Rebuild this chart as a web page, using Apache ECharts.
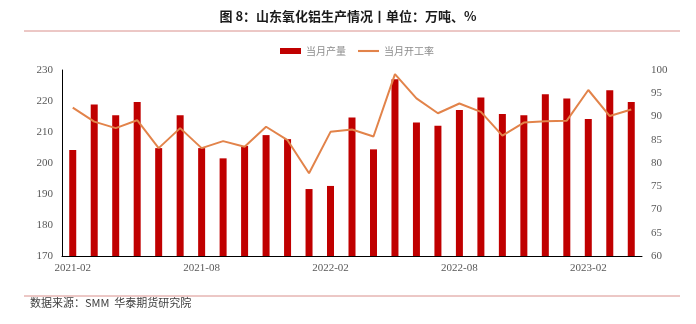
<!DOCTYPE html>
<html>
<head>
<meta charset="utf-8">
<script src="https://cdn.jsdelivr.net/npm/echarts@6/dist/echarts.min.js"></script>
<style>
  html, body { margin: 0; padding: 0; background: #fff; }
  #chart { width: 696px; height: 324px; }
</style>
</head>
<body>
<div id="chart"></div>
<script>
// Monthly categories, 2021-02 .. 2023-04
const months = [
  '2021-02','2021-03','2021-04','2021-05','2021-06','2021-07','2021-08','2021-09','2021-10','2021-11','2021-12',
  '2022-01','2022-02','2022-03','2022-04','2022-05','2022-06','2022-07','2022-08','2022-09','2022-10','2022-11','2022-12',
  '2023-01','2023-02','2023-03','2023-04'
];
// 当月产量 (万吨)
const output = [
  204.2, 218.9, 215.4, 219.7, 204.8, 215.4, 204.8, 201.5, 205.5, 209.0, 207.7,
  191.6, 192.6, 214.7, 204.4, 227.0, 213.1, 212.0, 217.1, 221.1, 215.8, 215.4, 222.2,
  220.8, 214.2, 223.5, 219.7
];
// 当月开工率 (%)
const utilization = [
  91.9, 88.9, 87.5, 89.2, 83.2, 87.5, 83.2, 84.7, 83.5, 87.8, 84.9,
  77.8, 86.7, 87.2, 85.7, 99.1, 93.9, 90.7, 92.8, 91.0, 85.9, 88.7, 89.0,
  89.1, 95.7, 90.1, 91.5
];
const leftTicks = { min: 170, max: 230, interval: 10 };
const rightTicks = { min: 60, max: 100, interval: 5 };

const axisFont = { color: '#595959', fontSize: 11, fontFamily: '"Liberation Serif"' };
const cjk = '"Noto Sans CJK SC", sans-serif';

const chart = echarts.init(document.getElementById('chart'), null, { renderer: 'canvas' });
chart.setOption({
  animation: false,
  backgroundColor: '#fff',
  title: {
    text: '图 8：山东氧化铝生产情况丨单位：万吨、%',
    left: 'center',
    top: 5,
    textStyle: { fontFamily: cjk, fontSize: 13, fontWeight: 'bold', color: '#1a1a1a' }
  },
  graphic: [
    { type: 'line', shape: { x1: 24, y1: 31, x2: 680, y2: 31 }, style: { stroke: '#d9908c', lineWidth: 1 } },
    { type: 'line', shape: { x1: 24, y1: 296, x2: 680, y2: 296 }, style: { stroke: '#d9908c', lineWidth: 1 } },
    {
      type: 'text', left: 30, top: 297,
      style: { text: '数据来源：SMM  华泰期货研究院', fill: '#404040', font: '11px ' + cjk }
    }
  ],
  legend: {
    top: 41,
    left: 275,
    itemGap: 12,
    itemWidth: 21,
    itemHeight: 6,
    textStyle: { color: '#8c8c8c', fontSize: 10, fontFamily: cjk },
    data: [
      { name: '当月产量', icon: 'rect' },
      { name: '当月开工率', icon: 'path://M0,0 L20,0 L20,2 L0,2 Z' }
    ]
  },
  grid: { left: 62, right: 54, top: 70, bottom: 68 },
  xAxis: {
    type: 'category',
    data: months,
    boundaryGap: true,
    axisLine: { lineStyle: { color: '#000', width: 1 } },
    axisTick: { show: false },
    axisLabel: Object.assign({ interval: 5, margin: 7 }, axisFont)
  },
  yAxis: [
    {
      type: 'value',
      min: leftTicks.min, max: leftTicks.max, interval: leftTicks.interval,
      axisLine: { show: true, lineStyle: { color: '#000', width: 1 } },
      axisTick: { show: false },
      splitLine: { show: false },
      axisLabel: Object.assign({ margin: 9 }, axisFont)
    },
    {
      type: 'value',
      min: rightTicks.min, max: rightTicks.max, interval: rightTicks.interval,
      position: 'right',
      axisLine: { show: false },
      axisTick: { show: false },
      splitLine: { show: false },
      axisLabel: Object.assign({ margin: 9 }, axisFont)
    }
  ],
  series: [
    {
      name: '当月产量',
      type: 'bar',
      data: output,
      barWidth: 7,
      itemStyle: { color: '#c00000' },
      yAxisIndex: 0
    },
    {
      name: '当月开工率',
      type: 'line',
      data: utilization,
      yAxisIndex: 1,
      symbol: 'none',
      lineStyle: { color: '#e2834a', width: 2 },
      itemStyle: { color: '#e2834a' }
    }
  ]
});
</script>
</body>
</html>
